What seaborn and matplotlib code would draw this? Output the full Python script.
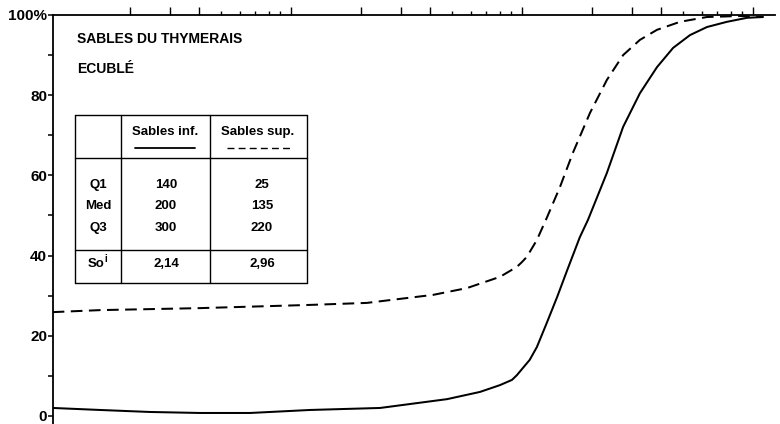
import matplotlib
matplotlib.use("Agg")
import matplotlib.pyplot as plt
import pandas as pd
import seaborn as sns

# Cumulative grain-size curves (grain size in micrometres, cumulative %)
grain_inf = [0.93, 1.49, 2.45, 4.04, 6.65, 12.1, 24.3, 47.4, 65.8, 80.3, 90.5,
             95.1, 101, 108, 116, 128, 142, 157, 178, 193, 233, 274, 324, 384,
             451, 534, 632, 771, 942, 1105]
pct_inf = [2.0, 1.5, 1.0, 0.75, 0.75, 1.5, 2.0, 4.2, 6.0, 7.7, 9.0,
           10.2, 12.0, 14.0, 17.2, 23.2, 29.7, 36.4, 44.6, 48.9, 60.6, 72.1,
           80.5, 87.0, 91.8, 95.0, 97.0, 98.3, 99.3, 99.5]

grain_sup = [0.93, 1.49, 4.04, 12.1, 21.3, 29.6, 41.2, 57.8, 80.3, 95.1, 100,
             105, 116, 128, 146, 166, 197, 233, 274, 324, 384, 483, 632, 879,
             1105]
pct_sup = [25.9, 26.4, 26.9, 27.7, 28.2, 29.2, 30.2, 31.9, 34.7, 37.2, 38.4,
           39.7, 43.9, 49.4, 57.1, 65.6, 75.6, 83.8, 90.0, 93.8, 96.3, 98.3,
           99.5, 99.75, 99.5]

series_names = ["Sables inf.", "Sables sup."]
stat_rows = ["Q1", "Med", "Q3"]
stats_inf = ["140", "200", "300"]
stats_sup = ["25", "135", "220"]
sorting_inf = "2,14"
sorting_sup = "2,96"

y_ticks = [0, 20, 40, 60, 80, 100]
y_tick_labels = ["0", "20", "40", "60", "80", "100%"]
y_minor = [10, 30, 50, 70, 90]
x_major = [2, 3, 4, 10, 20, 30, 40, 100, 200, 300, 400, 1000]
x_minor = [5, 6, 7, 8, 9, 50, 60, 70, 80, 90, 500, 600, 700, 800, 900]

df = pd.concat([
    pd.DataFrame({"grain": grain_inf, "pct": pct_inf, "serie": series_names[0]}),
    pd.DataFrame({"grain": grain_sup, "pct": pct_sup, "serie": series_names[1]}),
], ignore_index=True)

sns.set_theme(style="white")
plt.rcParams["font.family"] = ["Liberation Sans", "DejaVu Sans"]

W, H = 780, 424
fig = plt.figure(figsize=(W / 100, H / 100), dpi=100)
ax = fig.add_axes([53 / W, 0, 722 / W, 409 / H])

sns.lineplot(data=df, x="grain", y="pct", style="serie",
             dashes={series_names[0]: "", series_names[1]: (5.8, 3.2)},
             color="black", lw=1.45, sort=False, estimator=None,
             legend=False, ax=ax)

ax.set_xscale("log")
ax.set_xlim(0.933, 1245)
ax.set_ylim(-2.0, 100)
ax.set_xlabel("")
ax.set_ylabel("")
ax.grid(False)

for side in ("bottom", "right"):
    ax.spines[side].set_visible(False)
for side in ("top", "left"):
    ax.spines[side].set_color("black")
    ax.spines[side].set_linewidth(1.3)

# grain-size ticks along the top line, no labels
ax.xaxis.set_major_locator(matplotlib.ticker.FixedLocator(x_major))
ax.xaxis.set_minor_locator(matplotlib.ticker.FixedLocator(x_minor))
ax.xaxis.set_major_formatter(matplotlib.ticker.NullFormatter())
ax.xaxis.set_minor_formatter(matplotlib.ticker.NullFormatter())
ax.tick_params(axis="x", which="major", top=True, bottom=False, direction="out",
               length=5.5, width=1.0, color="black",
               labeltop=False, labelbottom=False)
ax.tick_params(axis="x", which="minor", top=True, bottom=False, direction="out",
               length=3.0, width=1.0, color="black",
               labeltop=False, labelbottom=False)

ax.set_yticks(y_ticks)
ax.set_yticklabels(y_tick_labels)
ax.set_yticks(y_minor, minor=True)
ax.tick_params(axis="y", which="both", left=True, direction="out", length=3.8,
               width=1.1, color="black", pad=0.5, labelsize=11,
               labelcolor="black")
for lbl in ax.get_yticklabels():
    lbl.set_fontweight("bold")


def fx(x):
    return x / W


def fy(y):
    return 1 - y / H


def hline(x0, x1, y, **kw):
    ax.plot([fx(x0), fx(x1)], [fy(y), fy(y)], transform=fig.transFigure,
            clip_on=False, color="black", **kw)


def vline(x, y0, y1, **kw):
    ax.plot([fx(x), fx(x)], [fy(y0), fy(y1)], transform=fig.transFigure,
            clip_on=False, color="black", **kw)


txt = dict(transform=fig.transFigure, color="black", fontweight="bold")

# titles
ax.text(fx(77), fy(39), "SABLES DU THYMERAIS", ha="left", va="center",
        fontsize=10, **txt)
ax.text(fx(77), fy(69), "ECUBLÉ", ha="left", va="center", fontsize=10, **txt)

# summary table frame
tx0, tx1, tc1, tc2 = 75, 307, 121, 210
ty0, ty1, tr1, tr2 = 115, 283, 158, 250
for yy in (ty0, tr1, tr2, ty1):
    hline(tx0, tx1, yy, lw=1.0)
for xx in (tx0, tc1, tc2, tx1):
    vline(xx, ty0, ty1, lw=1.0)

# column headers with line samples
ax.text(fx(165), fy(132), series_names[0], ha="center", va="center",
        fontsize=9.5, **txt)
ax.text(fx(258), fy(132), series_names[1], ha="center", va="center",
        fontsize=9.5, **txt)
hline(135, 195, 148, lw=1.3)
hline(227, 290, 148, lw=1.0, dashes=(5, 3))

row_y = [185, 206, 228]
for name, vi, vs, yy in zip(stat_rows, stats_inf, stats_sup, row_y):
    ax.text(fx(98), fy(yy), name, ha="center", va="center", fontsize=9.5, **txt)
    ax.text(fx(166), fy(yy), vi, ha="center", va="center", fontsize=9.5, **txt)
    ax.text(fx(262), fy(yy), vs, ha="center", va="center", fontsize=9.5, **txt)

ax.text(fx(104), fy(264), "So", ha="right", va="center", fontsize=9.5, **txt)
ax.text(fx(104.5), fy(259), "i", ha="left", va="center", fontsize=7, **txt)
ax.text(fx(166), fy(264), sorting_inf, ha="center", va="center", fontsize=9.5,
        **txt)
ax.text(fx(262), fy(264), sorting_sup, ha="center", va="center", fontsize=9.5,
        **txt)

fig.savefig("out.png", dpi=100, facecolor="white")
